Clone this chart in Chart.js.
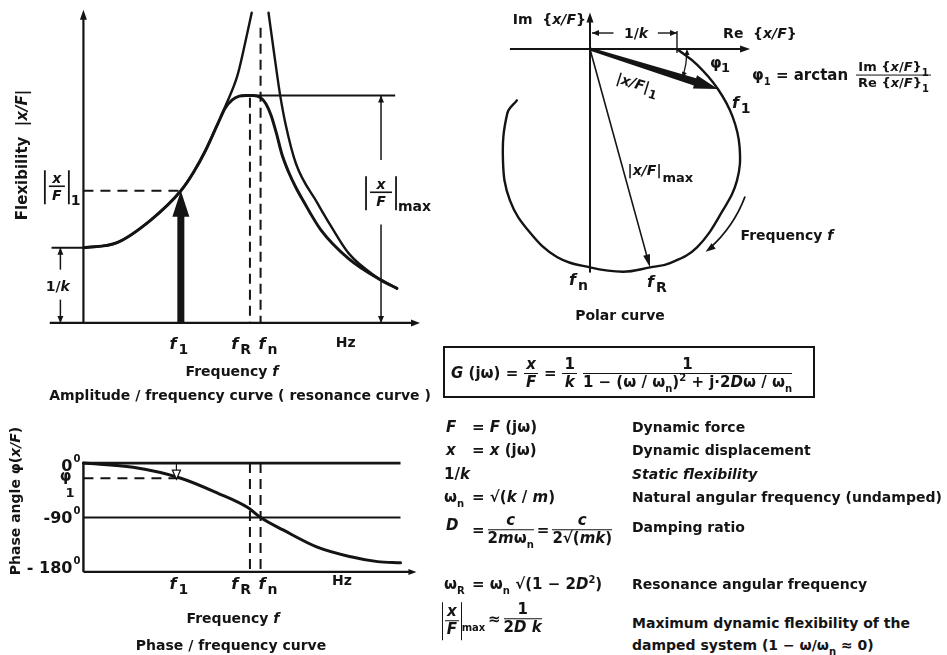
<!DOCTYPE html>
<html lang="en">
<head>
<meta charset="utf-8">
<title>Dynamic flexibility of a damped single-mass oscillator</title>
<script src="https://cdn.jsdelivr.net/npm/chart.js@4.4.1/dist/chart.umd.min.js"></script>
<style>
  html, body { margin: 0; padding: 0; background: #fff; }
  body {
    position: relative; width: 947px; height: 655px; overflow: hidden;
    font-family: 'DejaVu Sans', sans-serif; font-weight: 700; color: #141414;
  }
  canvas { position: absolute; }
  #ampChart { left: 0; top: 0; }
  #phaseChart { left: 0; top: 405px; }
  #polarChart { left: 470px; top: 0; }
  .cap { position: absolute; font-size: 14px; line-height: 18px; white-space: nowrap; transform: translate(-50%, -50%); }
  .cell { position: absolute; font-size: 15px; line-height: 18px; white-space: nowrap; transform: translateY(-50%); }
  .desc { font-size: 14px; }
  .box { position: absolute; border: 2px solid #141414; box-sizing: border-box; padding: 3px 0 0 6px; font-size: 15px; line-height: 44px; white-space: nowrap; }
  .box .frac { margin: 0 6px; }
  .frac { display: inline-flex; flex-direction: column; align-items: center; line-height: 1.15; margin: 0 3px; vertical-align: middle; }
  .frac > :first-child { border-bottom: 1.5px solid #141414; padding: 0 2px; align-self: stretch; text-align: center; }
  .abs { display: inline-flex; vertical-align: middle; border-left: 1.6px solid #141414; border-right: 1.6px solid #141414; padding: 1px 1px; }
  .abs .frac { margin: 0 1px; }
  .small { font-size: 13px; }
  sub { font-size: 10px; vertical-align: -5px; line-height: 0; }
  sup { font-size: 10px; vertical-align: 6px; line-height: 0; }
</style>
</head>
<body>
<canvas id="ampChart" width="470" height="405"></canvas>
<canvas id="phaseChart" width="470" height="250"></canvas>
<canvas id="polarChart" width="477" height="330"></canvas>

<div class="cap" style="left:232px; top:371px;">Frequency <i>f</i></div>
<div class="cap" style="left:240px; top:395px;">Amplitude / frequency curve ( resonance curve )</div>
<div class="cap" style="left:233px; top:618px;">Frequency <i>f</i></div>
<div class="cap" style="left:231px; top:645px;">Phase / frequency curve</div>
<div class="cap" style="left:620px; top:315px;">Polar curve</div>

<div class="cell" style="left:752px; top:75px;">φ<sub>1</sub> = arctan <span class="frac small"><span>Im {<i>x</i>/<i>F</i>}<sub>1</sub></span><span>Re {<i>x</i>/<i>F</i>}<sub>1</sub></span></span></div>

<div class="box" style="left:443px; top:346px; width:372px; height:52px;"><i>G</i> (jω) =<span class="frac"><i>x</i><i>F</i></span>=<span class="frac"><span>1</span><i>k</i></span><span class="frac" style="margin-left:0"><span>1</span><span>1 − (ω / ω<sub>n</sub>)<sup>2</sup> + j·2<i>D</i>ω / ω<sub>n</sub></span></span></div>

<div class="cell" style="left:446px; top:427px;"><i>F</i></div>
<div class="cell" style="left:472px; top:427px;">= <i>F</i> (jω)</div>
<div class="cell desc" style="left:632px; top:427px;">Dynamic force</div>

<div class="cell" style="left:446px; top:450px;"><i>x</i></div>
<div class="cell" style="left:472px; top:450px;">= <i>x</i> (jω)</div>
<div class="cell desc" style="left:632px; top:450px;">Dynamic displacement</div>

<div class="cell" style="left:444px; top:474px;">1/<i>k</i></div>
<div class="cell desc" style="left:632px; top:474px;"><i>Static flexibility</i></div>

<div class="cell" style="left:444px; top:497px;">ω<sub>n</sub></div>
<div class="cell" style="left:472px; top:497px;">= √(<i>k</i> / <i>m</i>)</div>
<div class="cell desc" style="left:632px; top:497px;">Natural angular frequency (undamped)</div>

<div class="cell" style="left:446px; top:525px;"><i>D</i></div>
<div class="cell" style="left:472px; top:530px;">=<span class="frac"><i>c</i><span>2<i>m</i>ω<sub>n</sub></span></span>=<span class="frac"><i>c</i><span>2√(<i>mk</i>)</span></span></div>
<div class="cell desc" style="left:632px; top:527px;">Damping ratio</div>

<div class="cell" style="left:444px; top:584px;">ω<sub>R</sub></div>
<div class="cell" style="left:472px; top:584px;">= ω<sub>n</sub> √(1 − 2<i>D</i><sup>2</sup>)</div>
<div class="cell desc" style="left:632px; top:584px;">Resonance angular frequency</div>

<div class="cell" style="left:442px; top:621px;"><span class="abs"><span class="frac"><i>x</i><i>F</i></span></span><sub>max</sub></div>
<div class="cell" style="left:488px; top:619px;">≈<span class="frac"><span>1</span><span>2<i>D</i> <i>k</i></span></span></div>
<div class="cell desc" style="left:632px; top:623px;">Maximum dynamic flexibility of the</div>
<div class="cell desc" style="left:632px; top:645px;">damped system (1 − ω/ω<sub>n</sub> ≈ 0)</div>

<script>
(function () {
  'use strict';

  const INK = '#141414';
  const FONT = '"DejaVu Sans", sans-serif';

  // resonance curve: frequency in units of fn, flexibility in units of 1/k
  const dampedFreq = [0, 0.19, 0.38, 0.55, 0.62, 0.69, 0.76, 0.80, 0.84, 0.88, 0.92, 0.96, 1.00, 1.03, 1.06, 1.09, 1.12, 1.16, 1.20, 1.24, 1.34, 1.50, 1.68, 1.77];
  const dampedFlex = [1.00, 1.07, 1.37, 1.76, 2.00, 2.30, 2.66, 2.86, 2.97, 3.02, 3.03, 3.03, 3.00, 2.92, 2.76, 2.52, 2.25, 2.00, 1.80, 1.63, 1.24, 0.85, 0.57, 0.46];
  const undampedLowFreq = [0, 0.19, 0.38, 0.55, 0.62, 0.69, 0.76, 0.80, 0.87, 0.915, 0.95];
  const undampedLowFlex = [1.00, 1.07, 1.37, 1.76, 2.00, 2.30, 2.66, 2.88, 3.30, 3.75, 4.13];
  const undampedHighFreq = [1.045, 1.07, 1.09, 1.11, 1.14, 1.20, 1.32, 1.40, 1.50, 1.65, 1.77];
  const undampedHighFlex = [4.13, 3.70, 3.36, 3.04, 2.66, 2.12, 1.60, 1.28, 0.92, 0.62, 0.46];

  // phase curve, degrees
  const phaseFreq = [0, 0.28, 0.55, 0.76, 0.93, 1.00, 1.13, 1.32, 1.51, 1.66, 1.79];
  const phaseDeg = [0, -7, -25, -50, -74, -90, -111, -139, -155, -163, -165];
  const phaseTicks = [0, -90, -180];
  const phaseTickText = ['0', '-90', '- 180'];

  // marked frequencies f1, fR, fn and the unit label
  const markFreq = [0.55, 0.94, 1.00];
  const markSub = ['1', 'R', 'n'];
  const hzFreq = 1.48;
  const flexAtF1 = 1.76;
  const flexMax = 3.03;
  const phiAtF1 = -25;

  // polar curve: Re and Im of x/F in units of 1/k
  const polarRe = [1.00, 1.23, 1.47, 1.64, 1.72, 1.69, 1.53, 1.23, 0.92, 0.69, 0.38, 0, -0.38, -0.69, -0.92, -1.00, -0.95, -0.84];
  const polarIm = [0, -0.18, -0.46, -0.78, -1.13, -1.51, -1.85, -2.28, -2.46, -2.51, -2.56, -2.51, -2.39, -2.11, -1.74, -1.28, -0.74, -0.59];
  const polarF1 = { x: 1.47, y: -0.46 };
  const polarFR = { x: 0.69, y: -2.51 };

  const pts = (xs, ys) => xs.map((v, i) => ({ x: v, y: ys[i] }));

  function curve(xs, ys, width, mode) {
    return {
      data: pts(xs, ys),
      showLine: true,
      borderColor: INK,
      borderWidth: width,
      borderCapStyle: 'round',
      borderJoinStyle: 'round',
      pointRadius: 0,
      cubicInterpolationMode: mode === 'monotone' ? 'monotone' : 'default',
      tension: 0.4,
      fill: false,
      clip: false
    };
  }

  function seg(ctx, x1, y1, x2, y2, w, dash) {
    ctx.save();
    ctx.lineWidth = w;
    ctx.setLineDash(dash || []);
    ctx.beginPath();
    ctx.moveTo(x1, y1);
    ctx.lineTo(x2, y2);
    ctx.stroke();
    ctx.restore();
  }

  // arrow head with its tip at (x, y) pointing along ang
  function head(ctx, x, y, ang, len, half, open) {
    ctx.save();
    ctx.translate(x, y);
    ctx.rotate(ang);
    ctx.beginPath();
    ctx.moveTo(0, 0);
    ctx.lineTo(-len, -half);
    ctx.lineTo(-len, half);
    ctx.closePath();
    if (open) {
      ctx.lineWidth = 1.3;
      ctx.fillStyle = '#fff';
      ctx.fill();
      ctx.stroke();
    } else {
      ctx.fill();
    }
    ctx.restore();
  }

  // text where the parts between '*' are italic; returns the end x
  function rich(ctx, str, x, y, size, align) {
    const parts = str.split('*');
    const fontFor = i => `${i % 2 ? 'italic ' : ''}700 ${size}px ${FONT}`;
    let total = 0;
    parts.forEach((p, i) => { ctx.font = fontFor(i); total += ctx.measureText(p).width; });
    let cx = align === 'right' ? x - total : align === 'center' ? x - total / 2 : x;
    ctx.textAlign = 'left';
    ctx.textBaseline = 'alphabetic';
    parts.forEach((p, i) => {
      ctx.font = fontFor(i);
      ctx.fillText(p, cx, y);
      cx += ctx.measureText(p).width;
    });
    return cx;
  }

  function fLabel(ctx, sub, x, y, align, size) {
    size = size || 16;
    const subSize = Math.round(size * 0.85);
    ctx.save();
    ctx.font = `italic 700 ${size}px ${FONT}`;
    const wf = ctx.measureText('f').width;
    ctx.font = `700 ${subSize}px ${FONT}`;
    const ws = ctx.measureText(sub).width;
    const total = wf + 2 + ws;
    const x0 = align === 'right' ? x - total : align === 'left' ? x : x - total / 2;
    ctx.textAlign = 'left';
    ctx.textBaseline = 'alphabetic';
    ctx.font = `italic 700 ${size}px ${FONT}`;
    ctx.fillText('f', x0, y);
    ctx.font = `700 ${subSize}px ${FONT}`;
    ctx.fillText(sub, x0 + wf + 2, y + size * 0.32);
    ctx.restore();
  }

  // |x/F| written as a stacked fraction between bars
  function absFrac(ctx, cx, cy, size, halfW, sub) {
    ctx.save();
    ctx.font = `italic 700 ${size}px ${FONT}`;
    ctx.textAlign = 'center';
    ctx.textBaseline = 'alphabetic';
    ctx.fillText('x', cx, cy - 3);
    ctx.fillText('F', cx, cy + size);
    seg(ctx, cx - halfW + 4, cy, cx + halfW - 4, cy, 1.6);
    seg(ctx, cx - halfW, cy - size - 2, cx - halfW, cy + size + 4, 1.8);
    seg(ctx, cx + halfW, cy - size - 2, cx + halfW, cy + size + 4, 1.8);
    ctx.font = `700 ${size}px ${FONT}`;
    ctx.textAlign = 'left';
    ctx.fillText(sub, cx + halfW + 2, cy + size + 5);
    ctx.restore();
  }

  function vertTitle(ctx, str, x, y, size) {
    ctx.save();
    ctx.translate(x, y);
    ctx.rotate(-Math.PI / 2);
    rich(ctx, str, 0, size * 0.35, size, 'center');
    ctx.restore();
  }

  function scalesOf(chart) {
    return {
      X: v => chart.scales.x.getPixelForValue(v),
      Y: v => chart.scales.y.getPixelForValue(v)
    };
  }

  const ampDecor = {
    id: 'ampDecor',
    afterDatasetsDraw(chart) {
      const { ctx } = chart;
      const { X, Y } = scalesOf(chart);
      ctx.save();
      ctx.strokeStyle = INK;
      ctx.fillStyle = INK;

      // axes
      seg(ctx, X(-0.19), Y(0), X(1.86), Y(0), 2.2);
      head(ctx, X(1.9), Y(0), 0, 9, 3.5);
      seg(ctx, X(0), Y(0), X(0), Y(4.1), 2.2);
      head(ctx, X(0), Y(4.17), -Math.PI / 2, 10, 3.5);

      // static flexibility 1/k
      seg(ctx, X(-0.18), Y(1), X(0), Y(1), 2);
      const xk = X(-0.13);
      seg(ctx, xk, Y(1), xk, Y(0.71), 1.5);
      seg(ctx, xk, Y(0.31), xk, Y(0), 1.5);
      head(ctx, xk, Y(1), -Math.PI / 2, 7, 3);
      head(ctx, xk, Y(0), Math.PI / 2, 7, 3);
      rich(ctx, '1/*k*', X(-0.145), Y(0.42), 14, 'center');

      // exciting force at f1
      const x1 = X(markFreq[0]);
      seg(ctx, X(0), Y(flexAtF1), x1, Y(flexAtF1), 2, [10, 7]);
      ctx.fillRect(x1 - 3.5, Y(flexAtF1) + 20, 7, Y(0) - Y(flexAtF1) - 20);
      head(ctx, x1, Y(flexAtF1), -Math.PI / 2, 26, 8.5);
      absFrac(ctx, X(-0.15), Y(1.82), 14, 12, '1');

      // peak and its dimension
      seg(ctx, X(0.89), Y(flexMax), X(1.76), Y(flexMax), 2);
      const xm = X(1.68);
      seg(ctx, xm, Y(flexMax), xm, Y(2.17), 1.5);
      seg(ctx, xm, Y(1.31), xm, Y(0), 1.5);
      head(ctx, xm, Y(flexMax), -Math.PI / 2, 7, 3);
      head(ctx, xm, Y(0), Math.PI / 2, 7, 3);
      absFrac(ctx, xm, Y(1.74), 14, 15, 'max');

      // resonance and natural frequency
      seg(ctx, X(markFreq[1]), Y(3.0), X(markFreq[1]), Y(0), 2, [10, 6]);
      seg(ctx, X(markFreq[2]), Y(3.93), X(markFreq[2]), Y(0), 2, [10, 6]);

      // frequency marks
      const by = Y(0) + 26;
      fLabel(ctx, markSub[0], X(markFreq[0]) - 2, by, 'center');
      fLabel(ctx, markSub[1], X(markFreq[1]) + 1, by, 'right');
      fLabel(ctx, markSub[2], X(markFreq[2]) - 2, by, 'left');
      rich(ctx, 'Hz', X(hzFreq), by - 2, 14, 'center');

      vertTitle(ctx, 'Flexibility  |*x/F*|', 22, 155, 15);
      ctx.restore();
    }
  };

  const phaseDecor = {
    id: 'phaseDecor',
    afterDatasetsDraw(chart) {
      const { ctx } = chart;
      const { X, Y } = scalesOf(chart);
      ctx.save();
      ctx.strokeStyle = INK;
      ctx.fillStyle = INK;

      seg(ctx, X(0), Y(0), X(1.79), Y(0), 2.6);
      seg(ctx, X(0), Y(-90), X(1.79), Y(-90), 2);
      seg(ctx, X(0), Y(-180), X(1.84), Y(-180), 2.4);
      head(ctx, X(1.88), Y(-180), 0, 8, 3);
      seg(ctx, X(0), Y(0) - 1, X(0), Y(-180), 2.4);

      // phase at f1
      seg(ctx, X(0), Y(phiAtF1), X(markFreq[0]), Y(phiAtF1), 2, [10, 7]);
      const xa = X(markFreq[0] - 0.025);
      seg(ctx, xa, Y(0), xa, Y(phiAtF1) - 6, 1.2);
      head(ctx, xa, Y(phiAtF1) + 1, Math.PI / 2, 9, 4, true);

      markFreq.slice(1).forEach(f => seg(ctx, X(f), Y(0), X(f), Y(-180), 2, [10, 6]));

      // degree ticks
      const lift = [8, 5, 1];
      phaseTicks.forEach((t, i) => {
        ctx.font = `700 10px ${FONT}`;
        const ws = ctx.measureText('0').width;
        const right = X(0) - 3;
        ctx.textAlign = 'right';
        ctx.fillText('0', right, Y(t) + lift[i] - 9);
        rich(ctx, phaseTickText[i], right - ws - 1, Y(t) + lift[i], 16, 'right');
      });
      rich(ctx, 'φ', X(-0.1), Y(phiAtF1) + 3, 15, 'center');
      rich(ctx, '1', X(-0.075), Y(phiAtF1) + 19, 13, 'center');

      const by = Y(-180) + 17;
      fLabel(ctx, markSub[0], X(markFreq[0]) - 2, by, 'center');
      fLabel(ctx, markSub[1], X(markFreq[1]) + 1, by, 'right');
      fLabel(ctx, markSub[2], X(markFreq[2]) - 2, by, 'left');
      rich(ctx, 'Hz', X(1.46), by - 4, 14, 'center');

      vertTitle(ctx, 'Phase angle φ(*x/F*)', 15, 96, 14);
      ctx.restore();
    }
  };

  const polarDecor = {
    id: 'polarDecor',
    afterDatasetsDraw(chart) {
      const { ctx } = chart;
      const { X, Y } = scalesOf(chart);
      const ox = X(0);
      const oy = Y(0);
      ctx.save();
      ctx.strokeStyle = INK;
      ctx.fillStyle = INK;

      // axes
      seg(ctx, X(-0.92), oy, X(1.79), oy, 2);
      head(ctx, X(1.84), oy, 0, 10, 3.5);
      seg(ctx, ox, Y(-2.57), ox, Y(0.36), 2);
      head(ctx, ox, Y(0.42), -Math.PI / 2, 10, 3.5);
      rich(ctx, 'Im  {*x/F*}', ox - 4, Y(0.29), 14, 'right');
      rich(ctx, 'Re  {*x/F*}', X(1.53), Y(0.13), 14, 'left');

      // |x/F|1 vector, widening towards its head
      const fx = X(polarF1.x);
      const fy = Y(polarF1.y);
      const ang = Math.atan2(fy - oy, fx - ox);
      const len = Math.hypot(fx - ox, fy - oy);
      ctx.save();
      ctx.translate(ox, oy);
      ctx.rotate(ang);
      ctx.beginPath();
      ctx.moveTo(0, -1.5);
      ctx.lineTo(len - 24, -3.8);
      ctx.lineTo(len - 24, -7);
      ctx.lineTo(len, 0);
      ctx.lineTo(len - 24, 7);
      ctx.lineTo(len - 24, 3.8);
      ctx.lineTo(0, 1.5);
      ctx.closePath();
      ctx.fill();
      ctx.restore();

      ctx.save();
      ctx.translate(ox + len * 0.4, oy + len * 0.4 * Math.tan(ang));
      ctx.rotate(ang);
      const end = rich(ctx, '|*x/F*|', -22, 24, 14, 'left');
      ctx.font = `700 12px ${FONT}`;
      ctx.fillText('1', end + 1, 29);
      ctx.restore();
      fLabel(ctx, markSub[0], fx + 14, fy + 19, 'left');

      // |x/F|max vector to fR
      const rx = X(polarFR.x);
      const ry = Y(polarFR.y);
      const angR = Math.atan2(ry - oy, rx - ox);
      seg(ctx, ox, oy, rx - 8 * Math.cos(angR), ry - 8 * Math.sin(angR), 1.6);
      head(ctx, rx, ry, angR, 13, 3.5);
      const t = 0.56;
      const end2 = rich(ctx, '|*x/F*|', ox + (rx - ox) * t + 4, oy + (ry - oy) * t + 4, 14, 'left');
      ctx.font = `700 13px ${FONT}`;
      ctx.fillText('max', end2 + 1, oy + (ry - oy) * t + 11);

      // 1/k dimension
      const yd = Y(0.184);
      seg(ctx, ox + 2, yd, X(0.27), yd, 1.4);
      head(ctx, ox + 2, yd, Math.PI, 7, 3);
      seg(ctx, X(0.78), yd, X(1), yd, 1.4);
      head(ctx, X(1), yd, 0, 7, 3);
      seg(ctx, X(1), yd - 2, X(1), oy + 4, 1.4);
      rich(ctx, '1/*k*', X(0.53), yd + 5, 14, 'center');

      // phase angle phi1
      const r = X(1.115) - ox;
      ctx.lineWidth = 1.3;
      ctx.beginPath();
      ctx.arc(ox, oy, r, 0.02, ang - 0.02);
      ctx.stroke();
      head(ctx, ox + r, oy, -Math.PI / 2, 6, 2.5);
      head(ctx, ox + r * Math.cos(ang), oy + r * Math.sin(ang), ang + Math.PI / 2, 6, 2.5);
      rich(ctx, 'φ', X(1.38), Y(-0.22), 15, 'left');
      ctx.font = `700 13px ${FONT}`;
      ctx.fillText('1', X(1.38) + 11, Y(-0.22) + 4);

      // direction of increasing frequency
      const cx = X(0.36);
      const cy = Y(-1.16);
      const R = X(0.36 + 1.52) - cx;
      const a0 = 0.36;
      const a1 = 0.88;
      ctx.lineWidth = 1.8;
      ctx.beginPath();
      ctx.arc(cx, cy, R, a0, a1 - 0.04);
      ctx.stroke();
      head(ctx, cx + R * Math.cos(a1), cy + R * Math.sin(a1), a1 + Math.PI / 2 + 0.06, 10, 3.5);
      rich(ctx, 'Frequency *f*', X(1.73), Y(-2.2), 14, 'left');

      // fn and fR on the curve
      fLabel(ctx, markSub[2], ox - 2, Y(-2.51) + 18, 'right');
      fLabel(ctx, markSub[1], rx - 3, ry + 20, 'left');
      ctx.restore();
    }
  };

  const baseOptions = (xr, yr, padding) => ({
    responsive: false,
    animation: false,
    devicePixelRatio: 1,
    layout: { padding },
    events: [],
    plugins: { legend: { display: false }, tooltip: { enabled: false } },
    scales: {
      x: { type: 'linear', display: false, min: xr[0], max: xr[1] },
      y: { type: 'linear', display: false, min: yr[0], max: yr[1] }
    }
  });

  new Chart(document.getElementById('ampChart'), {
    type: 'scatter',
    data: {
      datasets: [
        curve(undampedLowFreq, undampedLowFlex, 2.4, 'monotone'),
        curve(undampedHighFreq, undampedHighFlex, 2.4, 'monotone'),
        curve(dampedFreq, dampedFlex, 3, 'monotone')
      ]
    },
    options: baseOptions([-0.2, 1.9], [-0.4, 4.3], { left: 48, right: 50, top: 0, bottom: 52 }),
    plugins: [ampDecor]
  });

  new Chart(document.getElementById('phaseChart'), {
    type: 'scatter',
    data: { datasets: [curve(phaseFreq, phaseDeg, 3, 'monotone')] },
    options: baseOptions([-0.2, 1.9], [-200, 20], { left: 48, right: 50, top: 46, bottom: 71 }),
    plugins: [phaseDecor]
  });

  new Chart(document.getElementById('polarChart'), {
    type: 'scatter',
    data: { datasets: [curve(polarRe, polarIm, 2.4)] },
    options: baseOptions([-1.195, 2.207], [-3.0, 0.506], { left: 16, right: 165, top: 5, bottom: 20 }),
    plugins: [polarDecor]
  });
})();
</script>
</body>
</html>
